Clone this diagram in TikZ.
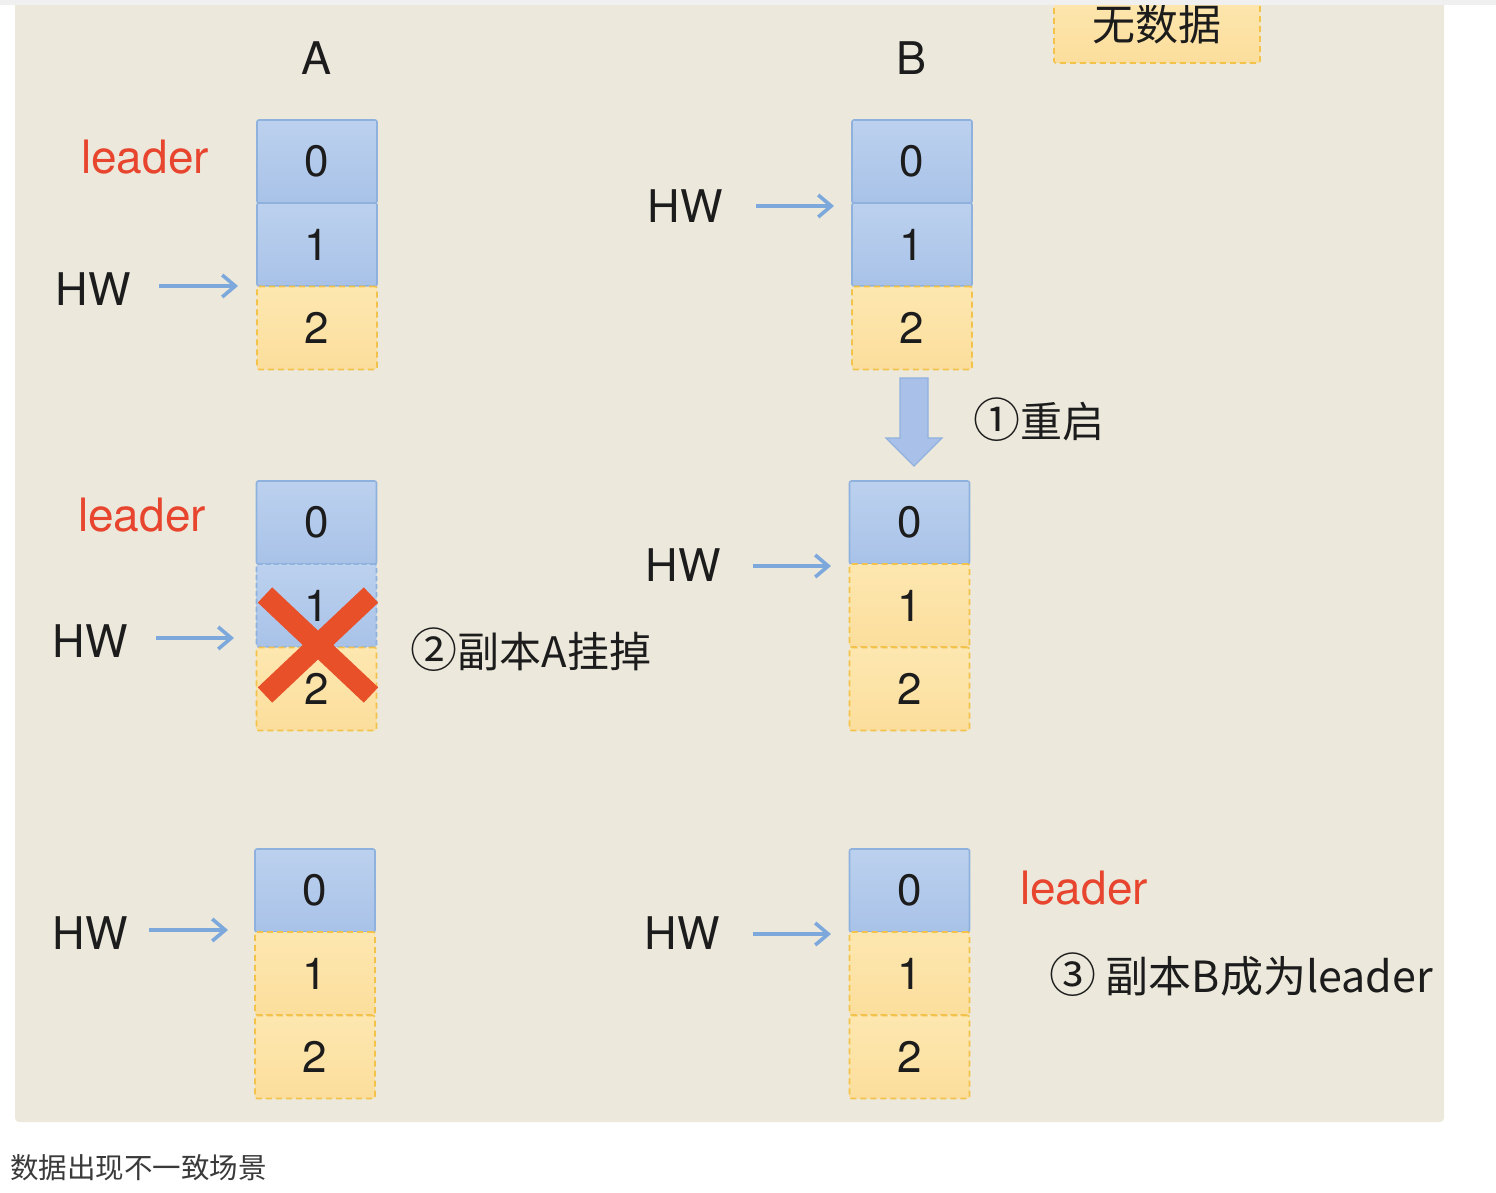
\documentclass[tikz,border=0pt]{standalone}
\usepackage{fontspec}
\setmainfont{TeX Gyre Heros}
\newfontfamily\cjk{Noto Sans CJK SC}
\usetikzlibrary{arrows.meta}
\definecolor{bg}{HTML}{ECE9DC}
\definecolor{blueF}{HTML}{A9C0E8}
\definecolor{blueT}{HTML}{BCD1EE}
\definecolor{blueB}{HTML}{A8C2E8}
\definecolor{blueD}{HTML}{8FB1DE}
\definecolor{yelT}{HTML}{FDE7B0}
\definecolor{yelB}{HTML}{FBDE9C}
\definecolor{yelD}{HTML}{F2C24A}
\definecolor{redL}{HTML}{E8452F}
\definecolor{redX}{HTML}{E8502A}
\definecolor{arrB}{HTML}{7DA8DC}
\definecolor{txt}{HTML}{1C1C1C}
\definecolor{capt}{HTML}{3A3A3A}
\newcommand{\circnum}[1]{{\fontsize{47}{48}\selectfont #1}}
\tikzset{
  cellbase/.style={minimum width=120pt, minimum height=83pt, inner sep=0pt, rounded corners=2pt, line width=1.6pt, text=txt, font=\fontsize{44}{50}\selectfont},
  cellblue/.style={cellbase, draw=blueD, top color=blueT, bottom color=blueB},
  cellbluedash/.style={cellbase, draw=blueD, dash pattern=on 5pt off 3pt, top color=blueT, bottom color=blueB},
  cellyel/.style={cellbase, draw=yelD, dash pattern=on 6pt off 4pt, top color=yelT, bottom color=yelB},
  lbl/.style={text=txt, inner sep=0pt, font=\fontsize{45}{50}\selectfont},
  leaderlbl/.style={text=redL, inner sep=0pt, font=\fontsize{46}{50}\selectfont},
  cjklbl/.style={text=txt, inner sep=0pt, font=\cjk\fontsize{42}{48}\selectfont},
  hwarrow/.style={draw=arrB, line width=3.4pt, -{Straight Barb[length=13pt,width=22pt,line width=3.6pt]}},
}
\begin{document}
\begin{tikzpicture}[x=1pt,y=-1pt]
% page
\useasboundingbox (0,0) rectangle (1496,1192);
\fill[white] (0,0) rectangle (1496,1192);
\fill[bg, rounded corners=4pt] (15,-10) rectangle (1444,1122);
% no-data box
\node[cellyel, minimum width=206pt, minimum height=72pt] (nodata) at (1157,27) {};
\node[cjklbl, font=\cjk\fontsize{43}{48}\selectfont] (nodatatxt) at (1157,24) {无数据};
\fill[white!94!black] (0,0) rectangle (1496,5);
% column headers
\node[lbl] (hA) at (317,58) {A};
\node[lbl] (hB) at (911,58) {B};
% ---------- top row ----------
\node[cellblue] (a10) at (317,161.5) {0};
\node[cellblue] (a11) at (317,244.5) {1};
\node[cellyel]  (a12) at (317,328) {2};
\node[leaderlbl] (ldA1) at (145,157) {leader};
\node[lbl] (hwA1) at (93,289) {HW};
\coordinate (hwA1s) at (159,286); \coordinate (hwA1e) at (238,286);
\draw[hwarrow] (hwA1s) -- (hwA1e);

\node[cellblue] (b10) at (912,161.5) {0};
\node[cellblue] (b11) at (912,244.5) {1};
\node[cellyel]  (b12) at (912,328) {2};
\node[lbl] (hwB1) at (685,206) {HW};
\coordinate (hwB1s) at (756,206); \coordinate (hwB1e) at (834,206);
\draw[hwarrow] (hwB1s) -- (hwB1e);

% restart block arrow
\draw[fill=blueF, draw=blueD, line width=1.2pt, line join=miter]
  (900,378) -- (928,378) -- (928,438) -- (942,438) -- (914,466) -- (886,438) -- (900,438) -- cycle;
\node[cjklbl] (st1) at (1039,420) {\circnum{①}重启};

% ---------- middle row ----------
\node[cellblue]     (a20) at (316.5,522.5) {0};
\node[cellbluedash] (a21) at (316.5,605.5) {1};
\node[cellyel]      (a22) at (316.5,689) {2};
\node[leaderlbl] (ldA2) at (142,515) {leader};
\node[lbl] (hwA2) at (90,641) {HW};
\coordinate (hwA2s) at (156,638); \coordinate (hwA2e) at (234,638);
\draw[hwarrow] (hwA2s) -- (hwA2e);
% red cross
\draw[redX, line width=21pt] (265,595) -- (371,695);
\draw[redX, line width=21pt] (371,595) -- (265,695);
\node[cjklbl] (st2) at (531,650) {\circnum{②}副本A挂掉};

\node[cellblue] (b20) at (909.5,522.5) {0};
\node[cellyel]  (b21) at (909.5,605.5) {1};
\node[cellyel]  (b22) at (909.5,689) {2};
\node[lbl] (hwB2) at (683,565) {HW};
\coordinate (hwB2s) at (753,566); \coordinate (hwB2e) at (831,566);
\draw[hwarrow] (hwB2s) -- (hwB2e);

% ---------- bottom row ----------
\node[cellblue] (a30) at (315,890.5) {0};
\node[cellyel]  (a31) at (315,973.5) {1};
\node[cellyel]  (a32) at (315,1057) {2};
\node[lbl] (hwA3) at (90,933) {HW};
\coordinate (hwA3s) at (149,930); \coordinate (hwA3e) at (228,930);
\draw[hwarrow] (hwA3s) -- (hwA3e);

\node[cellblue] (b30) at (909.5,890.5) {0};
\node[cellyel]  (b31) at (909.5,973.5) {1};
\node[cellyel]  (b32) at (909.5,1057) {2};
\node[lbl] (hwB3) at (682,933) {HW};
\coordinate (hwB3s) at (753,934); \coordinate (hwB3e) at (831,934);
\draw[hwarrow] (hwB3s) -- (hwB3e);
\node[leaderlbl] (ldB3) at (1084,888) {leader};
\node[cjklbl, font=\cjk\fontsize{43}{48}\selectfont] (st3) at (1241,975) {\circnum{③} 副本B成为leader};

% caption
\node[text=capt, inner sep=0pt, anchor=west, font=\cjk\fontsize{28.5}{32}\selectfont] (cap) at (10,1168) {数据出现不一致场景};
\end{tikzpicture}
\end{document}
